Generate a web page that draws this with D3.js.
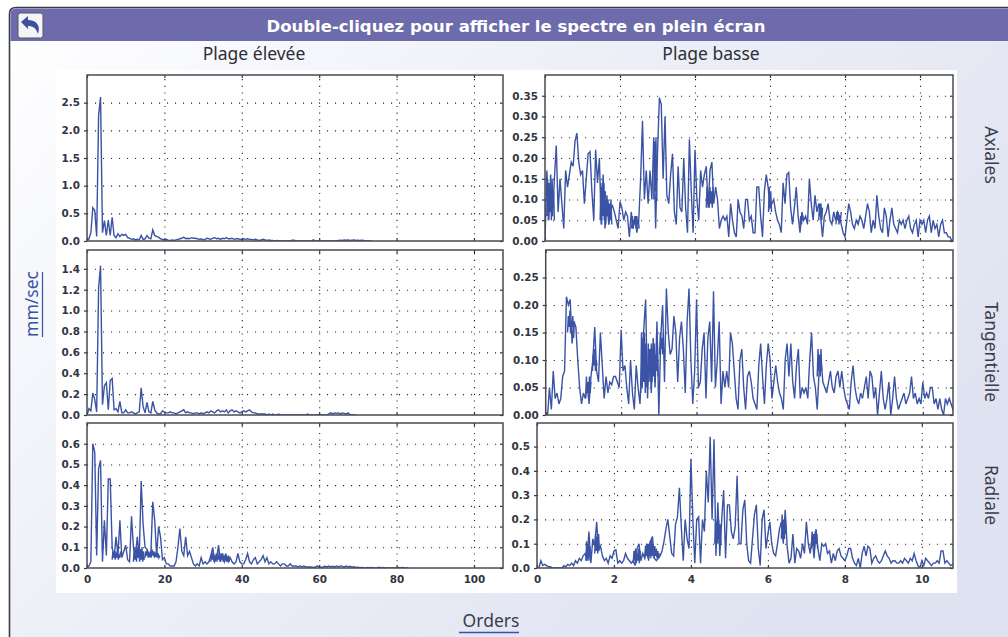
<!DOCTYPE html>
<html>
<head>
<meta charset="utf-8">
<script src="https://cdn.jsdelivr.net/npm/d3@7"></script>
<style>
    html, body { margin: 0; padding: 0; background: #fff; overflow: hidden; }
    svg { display: block; }
    text { font-family: "Noto Sans", sans-serif; }
    .tick text { font-family: "DejaVu Sans", sans-serif; font-size: 10.4px; font-weight: bold; fill: #33343f; }
    .grid line { stroke: #222; stroke-width: 1.1; stroke-dasharray: 1.1 6.9; }
    .gridx line { stroke-dasharray: 1.1 5.6; }
    .grid path, .marks path { display: none; }
    .marks line { stroke: #333; stroke-width: 1.2; }
    .trace { fill: none; stroke: #3a53a4; stroke-width: 1.4; }
</style>
</head>
<body>
<svg id="chart" width="1008" height="637"></svg>
<script>
// Spectrum values, one array per panel
const highStep = 0.5;   // orders between samples, left column
const lowStep = 0.05;   // orders between samples, right column
const highBurstStep = 0.2;
const lowBurstStep = 0.02;

const axialHigh = [0,.04,.15,.6,.55,.08,2.27,2.6,.15,.37,.1,.38,.1,.43,.1,.06,.13,.08,.12,.1,.12,.06,.05,.03,
    .04,.02,.03,.02,.1,.03,.04,.1,.05,.04,.2,.1,.08,.07,.04,.03,.02,.03,.01,.01,.02,.01,.02,.03,.04,.05,
    .07,.04,.05,.04,.06,.05,.05,.04,.03,.04,.02,.03,.05,.04,.03,.05,.06,.04,.05,.03,.05,.04,.06,.04,.04,.05,.03,.04,.04,.03,
    .03,.04,.03,.04,.03,.03,.02,.03,.02,.01,.02,.03,.02,.01,.02,.01,.01,0,.01,0,0,0,0,0,0,0,.015,.015,0,0,
    0,0,0,0,0,0,0,.02,0,0,0,0,0,0,0,0,0,0,0,0,.01,.015,.01,.02,.015,.02,.01,.015,.02,.01,.015,.01,.015,.01,0,0,0,0];
const tangentialHigh = [0,.06,.04,.21,.15,.03,1.22,1.43,.1,.28,.31,.05,.33,.35,.05,.06,.03,.13,.02,.02,.05,.02,.02,.03,.02,.01,.02,.03,
    .26,.08,.02,.12,.03,.02,.13,.05,.02,.01,.01,.04,.03,.02,.02,.03,.02,.02,.01,.02,.03,.04,.05,.02,.03,.02,.02,.01,.02,.02,.01,.02,
    .01,.02,.03,.02,.04,.03,.02,.04,.05,.03,.04,.03,.05,.02,.04,.05,.03,.04,.03,.02,.03,.04,.03,.04,.05,.03,.02,.02,.01,.01,
    .01,.01,.01,0,.01,0,.01,0,0,.01,0,0,0,0,0,0,0,0,0,0,0,0,0,0,.01,0,0,0,0,0,
    0,0,0,0,0,.01,.02,.01,.02,.015,.02,.01,.02,.015,.01,.02,0,0,0,0];
const radialHigh = [0,.01,.03,.6,.56,.06,.48,.52,.03,.23,.06,.43,.43,.1,.05,.15,.06,.23,.05,.08,.11,.04,.03,.25,.1,.06,.15,.05,
    .42,.21,.1,.09,.06,.07,.32,.23,.06,.2,.15,.04,.05,.02,.02,.01,.01,.01,.03,.1,.19,.08,.06,.15,.06,.08,.05,.02,.01,.02,.01,.05,
    .02,.03,.02,.03,.06,.1,.03,.05,.11,.03,.07,.03,.06,.03,.05,.03,.02,.03,.07,.03,.02,.02,.04,.07,.03,.02,.04,.05,.02,.03,
    .04,.06,.03,.05,.02,.03,.02,.02,.03,.02,.01,.02,.02,.01,.01,.02,.01,.01,.01,.005,.01,.005,.01,.005,.005,.005,.005,.003,.005,.01,
    .005,.003,.005,.008,.005,.01,.005,.008,.005,.01,.005,.01,.008,.005,.01,.005,.008,.004,.006,.003,.004,.002,.003,.001,0,.002,0,.003,0,0,
    0,.004,0,.003,0,0,0,0,0,0,0,.003,.002,.003,0,0,0];

const axialLow = [0,.17,.05,.16,.06,.15,.23,.07,.15,.09,.03,.17,.13,.16,.19,.18,.24,.26,.19,.16,
    .17,.09,.15,.21,.215,.12,.05,.22,.14,.2,.04,.16,.03,.11,.04,.08,.085,.07,.05,.03,
    .095,.08,.05,.07,.06,.01,.07,.03,.06,.02,.05,.15,.29,.1,.17,.09,.17,.1,.25,.03,
    .21,.345,.33,.15,.3,.11,.09,.16,.21,.07,.04,.18,.08,.07,.2,.08,.02,.245,.12,.02,
    .22,.1,.05,.17,.13,.16,.18,.08,.17,.19,.09,.13,.1,.03,.05,.06,.05,.06,.01,.09,
    .05,.02,.01,.1,.07,.06,.03,.1,.1,.05,.06,.02,.02,.13,.13,.06,.01,.12,.16,.13,
    .08,.09,.1,.07,.05,.04,.02,.14,.09,.16,.165,.08,.04,.08,.13,.06,.02,.07,.05,.06,
    .04,.15,.09,.05,.11,.07,.09,.06,.01,.06,.07,.09,.05,.04,.07,.05,.07,.06,.04,.02,
    .01,.05,.09,.07,.04,.03,.05,.04,.06,.05,.03,.06,.09,.07,.02,.05,.03,.11,.06,.03,
    .02,.08,.06,.01,.05,.08,.04,.03,.02,.05,.04,.05,.03,.05,.06,.03,.02,.04,.05,.01,
    .05,.04,.05,.02,.05,.06,.02,.05,.03,.04,.01,.04,.05,.02,.02,.01,.01,0];
const tangentialLow = [0,0,.05,.01,.08,.03,.04,.02,.03,.07,.08,.215,.2,.21,.13,.17,.16,.1,.05,.02,
    .04,.03,.06,.02,.07,.1,.16,.08,.06,.15,.09,.03,.07,.04,.06,.055,.07,.07,.06,.05,
    .155,.08,.09,.05,.02,.1,.04,.01,.09,.05,.02,.1,.155,.21,.03,.12,.04,.14,.05,.17,
    0,.14,.2,.06,.23,.15,.11,.12,.18,.15,.06,.14,.17,.12,.04,.17,.23,.1,.02,.08,
    .21,.05,.06,.12,.15,.03,.14,.17,.06,.225,.05,.1,.17,.02,.08,.05,.08,.05,.15,.13,
    .08,.03,.01,.1,.12,.05,.01,.07,.08,.06,.03,.02,.01,.09,.13,.07,.02,.09,.13,.1,
    .03,.06,.09,.06,.04,.03,.01,.1,.13,.07,.13,.06,.03,.09,.12,.03,.05,.04,.05,.03,
    .1,.15,.07,.05,.01,.08,.1,.06,.05,.04,.06,.08,.05,.04,.07,.08,.05,.08,.05,.03,
    .02,.01,.06,.09,.05,.03,.02,.04,.03,.05,.07,.03,.08,.07,.03,.05,0,.04,.08,.03,
    .01,.03,.06,0,.03,.07,.03,.01,.02,.03,.04,.02,.03,.04,.07,.03,.04,.02,.03,.02,
    .06,.03,.04,.03,.05,.05,.02,.03,.01,.03,.01,0,.03,.02,.03,.02,.01,.02];
const radialLow = [0,0,.03,.01,.015,.01,.005,.005,0,0,0,0,0,0,.01,.005,.015,.01,.02,.01,
    .03,.02,.04,.03,.05,.06,.03,.15,.02,.12,.09,.19,.07,.09,.05,.03,.04,.02,.05,.04,
    .07,.075,.02,.03,.02,.03,.06,.04,.03,.02,.03,.01,.08,.1,.03,.06,.04,.1,.03,.11,
    .13,.04,.03,.04,.05,.07,.11,.16,.2,.13,.06,.05,.18,.21,.33,.17,.03,.2,.12,.08,
    .45,.2,.02,.2,.21,.02,.2,.15,.4,.27,.54,.2,.53,.05,.27,.05,.2,.32,.04,.26,
    .26,.15,.12,.17,.38,.1,.1,.24,.28,.1,.03,.02,.12,.22,.26,.08,.01,.2,.24,.08,
    .14,.19,.1,.06,.05,.1,.16,.19,.1,.24,.09,.02,.04,.14,.02,.08,.07,.04,.1,.06,
    .19,.1,.06,.13,.04,.16,.08,.03,.1,.09,.1,.06,.07,.02,.06,.03,.07,.08,.05,.04,
    .03,.05,.08,.08,.04,.02,.01,.04,0,.06,.09,.05,.09,.08,.02,.04,.05,.03,.02,.03,
    .05,.07,.05,.04,.02,.03,.03,.02,.02,.03,.02,.04,.03,.02,.04,.03,.06,.03,.01,0,
    .03,.01,.04,.03,.02,.01,.02,.02,.03,.02,.07,.07,.02,.03,.02,.01,.015,.01];

// Stretches where the trace swings too fast for the main sampling: [from order, values]
const axialLowBursts = [
    [.05, [.06,.15,.05,.14,.07,.13,.05,.15,.08,.12,.05]],
    [1.47, [.05,.14,.04,.13,.06,.14,.05,.12]],
    [1.58, [.05,.1,.04,.09,.06,.1,.04,.09,.05,.1,.04]],
    [2.31, [.03,.06,.03,.05,.04,.06,.03,.06,.04,.05,.03]],
    [2.9, [.1,.24,.12,.25,.1]],
    [4.3, [.08,.13,.09,.12,.08,.13,.09,.12,.08,.13]],
    [5.96, [.07,.13,.08,.12,.07]],
    [6.8, [.04,.06,.04,.06,.05]],
    [7.3, [.05,.09,.06,.09,.05,.08]],
    [7.76, [.04,.07,.05,.07,.04,.06,.05,.07]]
];
const tangentialLowBursts = [
    [.58, [.15,.18,.16,.19,.15,.17,.16,.18,.14,.17]],
    [1.06, [.03,.07,.04,.06,.03,.07,.04,.06]],
    [1.24, [.08,.11,.09,.12,.08,.1,.09]],
    [2.52, [.04,.15,.05,.14,.06,.15,.04,.13,.05]],
    [2.7, [.07,.13,.06,.12,.08,.13,.06,.12,.07,.13,.06,.11,.08,.13,.07]],
    [3.02, [.11,.15,.12,.14,.11,.15]],
    [7.2, [.07,.12,.08,.11,.07,.12,.08]]
];
const radialLowBursts = [
    [1.27, [.03,.11,.04,.1,.03,.09,.05]],
    [1.5, [.06,.14,.07,.13,.06,.14,.08]],
    [2.5, [.02,.07,.03,.08,.02,.06,.03,.08,.02,.07,.04]],
    [2.8, [.04,.09,.05,.1,.04,.1,.05,.11,.04,.12,.05,.1,.04,.09,.05,.08,.04,.07,.04,.06]],
    [4.62, [.1,.2,.11,.19,.1,.2,.12,.18,.1]],
    [6.35, [.12,.22,.13,.2,.12,.21,.14]],
    [7.13, [.08,.15,.09,.14,.08,.15,.1,.14,.08]]
];
const radialHighBursts = [
    [6.5, [.04,.08,.05,.07,.04,.08,.05,.07,.04,.06,.05,.08]],
    [12, [.03,.1,.04,.09,.03,.1,.05,.11,.03,.09,.04,.1,.03,.08,.04]],
    [15, [.05,.08,.06,.09,.05,.07,.06,.08,.05,.09,.06,.08,.05,.07,.06,.08,.05,.07,.05,.06]],
    [32, [.03,.07,.04,.08,.03,.06,.04,.07,.03,.08,.04,.06,.03,.07,.04,.07,.03,.06,.04,.07,.03,.05,.04,.06,.03]]
];

const highOrderTicks = [0, 20, 40, 60, 80, 100];
const lowOrderTicks = [0, 2, 4, 6, 8, 10];
const axialHighTicks = [0, .5, 1, 1.5, 2, 2.5];
const tangentialHighTicks = [0, .2, .4, .6, .8, 1, 1.2, 1.4];
const radialHighTicks = [0, .1, .2, .3, .4, .5, .6];
const axialLowTicks = [0, .05, .1, .15, .2, .25, .3, .35];
const tangentialLowTicks = [0, .05, .1, .15, .2, .25];
const radialLowTicks = [0, .1, .2, .3, .4, .5];

const rowNames = ['Axiales', 'Tangentielle', 'Radiale'];

const panels = [
    { values: axialHigh, bursts: [], step: highStep, burstStep: highBurstStep, ticks: axialHighTicks, xTicks: highOrderTicks, fmt: '.1f', x0: 87, x1: 503, top: 75, bottom: 241, xMax: 107.5, yMax: 3.0 },
    { values: tangentialHigh, bursts: [], step: highStep, burstStep: highBurstStep, ticks: tangentialHighTicks, xTicks: highOrderTicks, fmt: '.1f', x0: 87, x1: 503, top: 250, bottom: 415, xMax: 107.5, yMax: 1.58 },
    { values: radialHigh, bursts: radialHighBursts, step: highStep, burstStep: highBurstStep, ticks: radialHighTicks, xTicks: highOrderTicks, fmt: '.1f', x0: 87, x1: 503, top: 423, bottom: 568, xMax: 107.5, yMax: 0.70, labels: true },
    { values: axialLow, bursts: axialLowBursts, step: lowStep, burstStep: lowBurstStep, ticks: axialLowTicks, xTicks: lowOrderTicks, fmt: '.2f', x0: 545, x1: 953, top: 75, bottom: 241, xMax: 10.88, yMax: 0.40 },
    { values: tangentialLow, bursts: tangentialLowBursts, step: lowStep, burstStep: lowBurstStep, ticks: tangentialLowTicks, xTicks: lowOrderTicks, fmt: '.2f', x0: 545.7, x1: 953, top: 250, bottom: 415, xMax: 10.8, yMax: 0.30 },
    { values: radialLow, bursts: radialLowBursts, step: lowStep, burstStep: lowBurstStep, ticks: radialLowTicks, xTicks: lowOrderTicks, fmt: '.1f', x0: 537, x1: 953, top: 423, bottom: 568, xMax: 10.81, yMax: 0.597, labels: true }
];

const svg = d3.select('#chart');

// Page background and header
const defs = svg.append('defs');
const bg = defs.append('linearGradient').attr('id', 'bg')
    .attr('x1', '0%').attr('y1', '0%').attr('x2', '100%').attr('y2', '60%');
bg.append('stop').attr('offset', '0%').attr('stop-color', '#ffffff');
bg.append('stop').attr('offset', '45%').attr('stop-color', '#eef0f8');
bg.append('stop').attr('offset', '100%').attr('stop-color', '#dfe3f1');

svg.append('path')
    .attr('d', 'M9.5,640 V14 Q9.5,7.5 16,7.5 H1010 V640 Z')
    .attr('fill', 'url(#bg)')
    .attr('stroke', '#3c3c44')
    .attr('stroke-width', 1.6);
svg.append('path')
    .attr('d', 'M10.5,41 V14 Q10.5,8.5 16,8.5 H1008 V41 Z')
    .attr('fill', '#6d6bab');

svg.append('rect').attr('x', 56).attr('y', 70).attr('width', 901).attr('height', 523).attr('fill', '#fff');

// Back button
const back = svg.append('g').attr('transform', 'translate(18,13)');
back.append('rect').attr('width', 25).attr('height', 25).attr('rx', 2.5)
    .attr('fill', '#f4f4f8').attr('stroke', '#55555f').attr('stroke-width', 1);
back.append('path')
    .attr('d', 'M3,9 L10,3 V7 C18,7 23,12 20,21 C18,15 15,13 10,13 V16 Z')
    .attr('fill', '#3f4f9f');

// Titles
svg.append('text').attr('x', 516).attr('y', 32).attr('text-anchor', 'middle')
    .attr('font-size', 16.5).attr('font-weight', 'bold').attr('fill', '#fff')
    .style('font-family', '"DejaVu Sans", sans-serif')
    .text('Double-cliquez pour afficher le spectre en plein écran');
svg.append('text').attr('x', 254).attr('y', 60).attr('text-anchor', 'middle')
    .attr('font-size', 17.5).attr('fill', '#2e2e36').text('Plage élevée');
svg.append('text').attr('x', 711).attr('y', 60).attr('text-anchor', 'middle')
    .attr('font-size', 17.5).attr('fill', '#2e2e36').text('Plage basse');

[155, 352, 495].forEach((cy, i) => {
    svg.append('text').attr('transform', `translate(985,${cy}) rotate(90)`)
        .attr('text-anchor', 'middle').attr('font-size', 17.5).attr('fill', '#3a3e4c')
        .text(rowNames[i]);
});

svg.append('text').attr('transform', 'translate(38,304) rotate(-90)')
    .attr('text-anchor', 'middle').attr('font-size', 17.5).attr('fill', '#3a53a4').text('mm/sec');
svg.append('line').attr('x1', 42.5).attr('x2', 42.5).attr('y1', 272).attr('y2', 337)
    .attr('stroke', '#3a53a4').attr('stroke-width', 1.2);

svg.append('text').attr('x', 491).attr('y', 627).attr('text-anchor', 'middle')
    .attr('font-size', 17.5).attr('fill', '#3a3e4c').text('Orders');
svg.append('line').attr('x1', 459).attr('x2', 519).attr('y1', 632.5).attr('y2', 632.5)
    .attr('stroke', '#3a53a4').attr('stroke-width', 1.4);

// Panels
panels.forEach((p, n) => {
    const x = d3.scaleLinear().domain([0, p.xMax]).range([p.x0, p.x1]);
    const y = d3.scaleLinear().domain([0, p.yMax]).range([p.bottom, p.top]);
    const w = p.x1 - p.x0;
    const h = p.bottom - p.top;
    const g = svg.append('g');

    defs.append('clipPath').attr('id', `clip${n}`).append('rect')
        .attr('x', p.x0).attr('y', p.top).attr('width', w).attr('height', h);

    // dotted grid
    g.append('g').attr('class', 'grid')
        .attr('transform', `translate(${p.x0},0)`)
        .call(d3.axisLeft(y).tickValues(p.ticks.filter(t => t > 0)).tickSize(-w).tickFormat(''));
    g.append('g').attr('class', 'grid gridx')
        .attr('transform', `translate(0,${p.bottom})`)
        .call(d3.axisBottom(x).tickValues(p.xTicks.filter(t => t > 0)).tickSize(-h).tickFormat(''));

    // spectrum
    const line = d3.line().x((d, i) => x(i * p.step)).y(d => y(d));
    g.append('path').datum(p.values).attr('class', 'trace')
        .attr('clip-path', `url(#clip${n})`).attr('d', line);

    const burstLine = from => d3.line().x((d, i) => x(from + i * p.burstStep)).y(d => y(d));
    g.selectAll('.burst').data(p.bursts).enter().append('path')
        .attr('class', 'trace burst')
        .attr('d', d => burstLine(d[0])(d[1]));

    // short marks along the frame
    g.append('g').attr('class', 'marks').attr('transform', `translate(${p.x1},0)`)
        .call(d3.axisRight(y).tickValues(p.ticks).tickSize(-3).tickFormat(''));
    g.append('g').attr('class', 'marks').attr('transform', `translate(0,${p.top})`)
        .call(d3.axisTop(x).tickValues(p.xTicks).tickSize(-3).tickFormat(''));
    g.append('g').attr('class', 'marks').attr('transform', `translate(0,${p.bottom})`)
        .call(d3.axisTop(x).tickValues(p.xTicks).tickSize(3).tickFormat(''));

    // labelled y axis
    g.append('g').attr('class', 'marks').attr('transform', `translate(${p.x0},0)`)
        .call(d3.axisLeft(y).tickValues(p.ticks).tickSize(3).tickPadding(4).tickFormat(d3.format(p.fmt)));

    if (p.labels) {
        g.append('g').attr('class', 'marks').attr('transform', `translate(0,${p.bottom})`)
            .call(d3.axisBottom(x).tickValues(p.xTicks).tickSize(0).tickPadding(8).tickFormat(d3.format('d')));
    }

    // frame
    g.append('rect').attr('x', p.x0).attr('y', p.top).attr('width', w).attr('height', h)
        .attr('fill', 'none').attr('stroke', '#4a4a50').attr('stroke-width', 1.5);
});
</script>
</body>
</html>
